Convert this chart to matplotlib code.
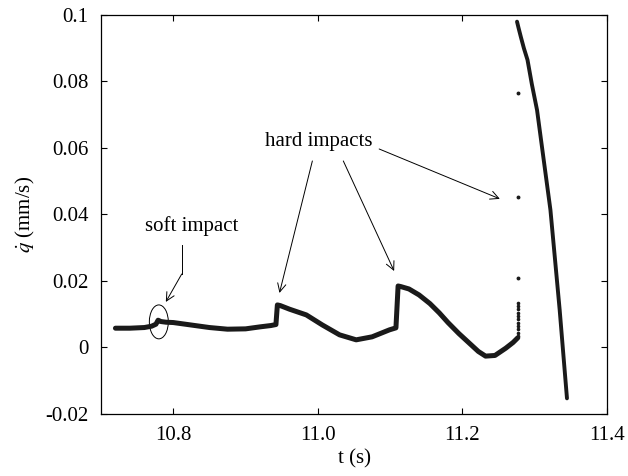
import matplotlib
matplotlib.use("Agg")
import matplotlib.pyplot as plt
from matplotlib.patches import Ellipse

plt.rcParams['font.family'] = ['Liberation Serif', 'DejaVu Serif']
plt.rcParams['mathtext.fontset'] = 'stix'

# slow part of the response (before the big jump)
t_main = [10.72, 10.74, 10.76, 10.770, 10.776, 10.779, 10.783, 10.79, 10.80,
          10.82, 10.85, 10.875, 10.90, 10.92, 10.935, 10.942, 10.944, 10.948,
          10.961, 10.984, 11.006, 11.03, 11.053, 11.075, 11.099, 11.108,
          11.111, 11.115, 11.126, 11.14, 11.155, 11.168, 11.18, 11.195,
          11.209, 11.222, 11.232, 11.245, 11.26, 11.27, 11.2765]
q_main = [0.0058, 0.0058, 0.0060, 0.0064, 0.0070, 0.0082, 0.0078, 0.0076, 0.0075,
          0.0069, 0.0060, 0.0055, 0.0056, 0.0062, 0.0066, 0.0069, 0.0128, 0.0126,
          0.0115, 0.0098, 0.0068, 0.0038, 0.0023, 0.0032, 0.0053, 0.0059,
          0.0185, 0.0183, 0.0176, 0.0158, 0.0132, 0.0104, 0.0075, 0.0042,
          0.0014, -0.0012, -0.0026, -0.0024, -0.0002, 0.0015, 0.0029]

# sparse points during the jump
t_jump = 11.2765
q_jump_dense = [0.0035, 0.0045, 0.0055, 0.0065, 0.0075, 0.0085, 0.0095,
                0.0105, 0.0115, 0.0125, 0.0135]
q_jump_sparse = [0.0208, 0.0454, 0.0765]

# fast part after the jump
t_fast = [11.2755, 11.2775, 11.2808, 11.285, 11.290, 11.296, 11.3032, 11.312,
          11.3217, 11.328, 11.3345, 11.340, 11.3446]
q_fast = [0.098, 0.0962, 0.0934, 0.0900, 0.0865, 0.0792, 0.0714, 0.0571,
          0.0414, 0.0266, 0.0113, -0.0032, -0.0153]

xticks = [10.8, 11.0, 11.2, 11.4]
xticklabels = ['10.8', '11.0', '11.2', '11.4']
yticks = [-0.02, 0, 0.02, 0.04, 0.06, 0.08, 0.1]
yticklabels = ['-0.02', '0', '0.02', '0.04', '0.06', '0.08', '0.1']

fig = plt.figure(figsize=(6.28, 4.76), dpi=100)
ax = fig.add_axes([0.1608, 0.1303, 0.8058, 0.8382])

ax.plot(t_main, q_main, color='#1a1a1a', lw=3.6, solid_capstyle='round',
        solid_joinstyle='round')
ax.plot([t_jump] * len(q_jump_dense), q_jump_dense, 'o', color='#1a1a1a', ms=1.6)
ax.plot([t_jump] * len(q_jump_sparse), q_jump_sparse, 'o', color='#1a1a1a', ms=1.8)
ax.plot(t_fast, q_fast, color='#1a1a1a', lw=2.8, solid_capstyle='round',
        solid_joinstyle='round')

ax.set_xlim(10.7, 11.4)
ax.set_ylim(-0.02, 0.1)
ax.set_xticks(xticks)
ax.set_xticklabels(xticklabels)
ax.set_yticks(yticks)
ax.set_yticklabels(yticklabels)
ax.tick_params(direction='in', length=4, width=0.8, top=True, right=True,
               labelsize=15, pad=9)
for s in ax.spines.values():
    s.set_linewidth(0.9)

ax.set_xlabel('t (s)', fontsize=15, labelpad=3)
ax.set_ylabel(r'$\dot{q}$ (mm/s)', fontsize=15, labelpad=6)

# annotations
ap = dict(arrowstyle='->,head_length=0.6,head_width=0.3', lw=0.7, color='black',
          shrinkA=0, shrinkB=0)
ax.text(11.0007, 0.0621, 'hard impacts', fontsize=15, ha='center', va='center')
ax.text(10.8255, 0.0365, 'soft impact', fontsize=15, ha='center', va='center')

ax.plot([10.8117, 10.8117], [0.0308, 0.0221], color='black', lw=0.7)
ax.annotate('', xy=(10.7897, 0.0137), xytext=(10.8117, 0.0221), arrowprops=ap)
ax.annotate('', xy=(10.9469, 0.0164), xytext=(10.9924, 0.0561), arrowprops=ap)
ax.annotate('', xy=(11.1055, 0.0230), xytext=(11.0352, 0.0561), arrowprops=ap)
ax.annotate('', xy=(11.2517, 0.0447), xytext=(11.0848, 0.0597), arrowprops=ap)

ax.add_patch(Ellipse((10.78, 0.0077), 0.0262, 0.0102, fill=False, lw=0.7,
                     color='black'))

fig.savefig('out.png', dpi=100)
